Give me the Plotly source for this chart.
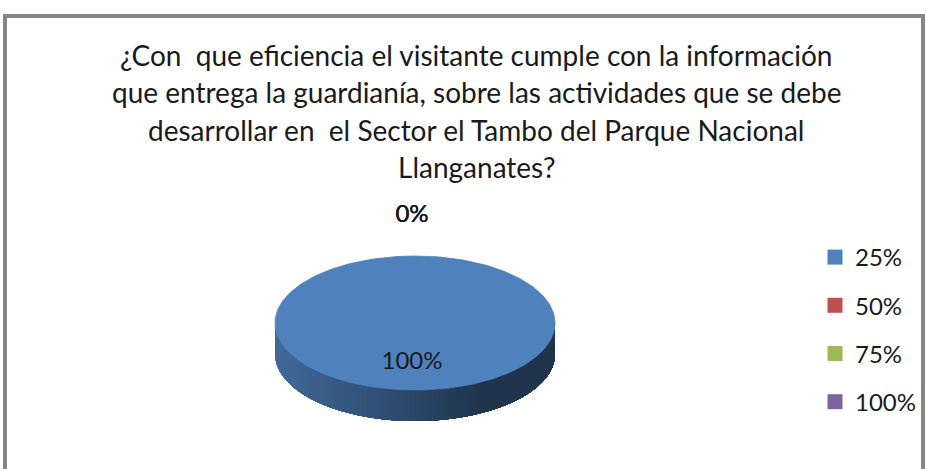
import numpy as np
import plotly.graph_objects as go

# ---- data ----
title_lines = [
    "¿Con  que eficiencia el visitante cumple con la información",
    "que entrega la guardianía, sobre las actividades que se debe",
    "desarrollar en  el Sector el Tambo del Parque Nacional",
    "Llanganates?",
]
categories = ["25%", "50%", "75%", "100%"]
values = [100, 0, 0, 0]
label_texts = ["100%", "0%", "0%", "0%"]
colors = ["#4F81BD", "#C0504D", "#9BBB59", "#8064A2"]

# ---- layout constants (pixels) ----
W, H = 926, 469
CX, CY = 415, 323
RX, RY = 140, 67
DEPTH = 31
INSIDE_R = 0.60
OUTSIDE_R = 1.60
FONT = "Lato, Carlito, Calibri, sans-serif"


def hex_rgb(h):
    h = h.lstrip("#")
    return tuple(int(h[i:i + 2], 16) for i in (0, 2, 4))


def shade(h, f):
    r, g, b = hex_rgb(h)
    return "rgb(%d,%d,%d)" % (round(r * f), round(g * f), round(b * f))


def ex(t):
    return CX + RX * np.sin(t)


def ey(t):
    return CY - RY * np.cos(t)


fig = go.Figure()

total = float(sum(values))
angles = np.cumsum([0] + [v / total * 2 * np.pi for v in values])

# side walls (front half only, theta in [pi/2, 3pi/2]); nested bands, no seams
for i, v in enumerate(values):
    if v <= 0:
        continue
    a0, a1 = angles[i], angles[i + 1]
    lo, hi = max(a0, np.pi / 2), min(a1, 3 * np.pi / 2)
    if hi <= lo:
        continue
    N = 90
    edges = np.linspace(lo, hi, N + 1)
    for k in range(N - 1, -1, -1):
        ts = np.linspace(lo, edges[k + 1], 60)
        xs = list(ex(ts)) + list(ex(ts[::-1]))
        ys = list(ey(ts)) + list(ey(ts[::-1]) + DEPTH)
        xm = ex((edges[k] + edges[k + 1]) / 2)
        tpos = (xm - (CX - RX)) / (2 * RX)
        f = 0.82 - 0.42 * min(tpos / 0.75, 1.0)
        c = shade(colors[i], f)
        fig.add_trace(go.Scatter(x=xs, y=ys, fill="toself", fillcolor=c,
                                 mode="none", hoverinfo="skip", showlegend=False))

# top faces
for i, v in enumerate(values):
    if v <= 0:
        continue
    a0, a1 = angles[i], angles[i + 1]
    ts = np.linspace(a0, a1, 241)
    xs, ys = list(ex(ts)), list(ey(ts))
    if a1 - a0 < 2 * np.pi - 1e-9:
        xs = [CX] + xs + [CX]
        ys = [CY] + ys + [CY]
    fig.add_trace(go.Scatter(x=xs, y=ys, fill="toself", fillcolor=colors[i],
                             mode="lines", line=dict(width=0.8, color=colors[i]),
                             hoverinfo="skip", showlegend=False))

# data labels
for i, v in enumerate(values):
    mid = (angles[i] + angles[i + 1]) / 2
    if v <= 0:
        mid = angles[i] % (2 * np.pi)
        r = OUTSIDE_R
    else:
        r = INSIDE_R
    fig.add_trace(go.Scatter(x=[CX - 3 + RX * r * np.sin(mid)], y=[CY - RY * r * np.cos(mid)],
                             mode="text", text=[label_texts[i]],
                             textfont=dict(family=FONT, size=24, color="#1a1a1a"),
                             hoverinfo="skip", showlegend=False))

# legend entries
for i, name in enumerate(categories):
    fig.add_trace(go.Scatter(x=[None], y=[None], mode="markers", name=name,
                             legendgroup=name,
                             marker=dict(symbol="square", size=15, color=colors[i])))

# title lines
for j, line in enumerate(title_lines):
    fig.add_annotation(x=476, y=55 + j * 37.3, xref="x", yref="y", text=line,
                       showarrow=False, xanchor="center", yanchor="middle",
                       font=dict(family=FONT, size=28, color="#1a1a1a"))

fig.add_shape(type="rect", xref="x", yref="y", x0=5, y0=16, x1=923, y1=495,
              line=dict(color="#868686", width=4), fillcolor="rgba(0,0,0,0)")

fig.update_layout(
    width=W, height=H,
    margin=dict(l=0, r=0, t=0, b=0, autoexpand=False),
    paper_bgcolor="white", plot_bgcolor="white",
    xaxis=dict(range=[0, W], visible=False, fixedrange=True),
    yaxis=dict(range=[H, 0], visible=False, fixedrange=True),
    showlegend=True,
    legend=dict(x=815 / W, y=1 - 235 / H, xanchor="left", yanchor="top",
                xref="container", yref="container",
                font=dict(family=FONT, size=24, color="#1a1a1a"),
                tracegroupgap=14, bgcolor="rgba(0,0,0,0)", itemwidth=30),
)

fig.write_html(
    "out.html",
    config={"displayModeBar": False},
    post_script="document.body.style.margin='0';document.body.style.overflow='hidden';",
)
